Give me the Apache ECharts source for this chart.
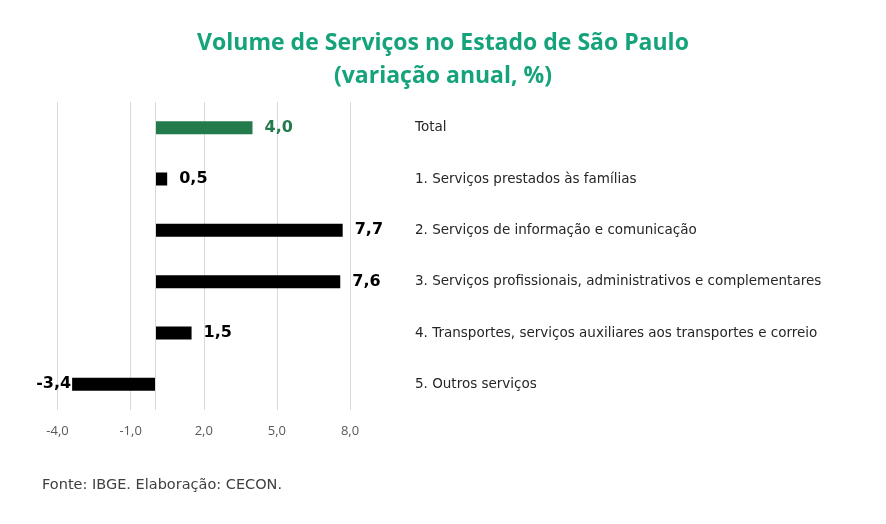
<!DOCTYPE html>
<html><head><meta charset="utf-8">
<script src="https://cdn.jsdelivr.net/npm/echarts@6/dist/echarts.min.js"></script>
<style>html,body{margin:0;padding:0;background:#fff}#c{width:886px;height:524px}</style>
</head><body><div id="c"></div>
<script>
const categories = [
  "Total",
  "1. Serviços prestados às famílias",
  "2. Serviços de informação e comunicação",
  "3. Serviços profissionais, administrativos e complementares",
  "4. Transportes, serviços auxiliares aos transportes e correio",
  "5. Outros serviços"
];
const values = [4.0, 0.5, 7.7, 7.6, 1.5, -3.4];
const xTicks = [-4, -1, 2, 5, 8];
const titleText = "Volume de Serviços no Estado de São Paulo\n(variação anual, %)";
const sourceText = "Fonte: IBGE. Elaboração: CECON.";

const fmt = v => v.toFixed(1).replace('.', ',');
const green = '#237b4c';
const chart = echarts.init(document.getElementById('c'), null, {renderer: 'canvas'});
chart.setOption({
  backgroundColor: '#fff',
  animation: false,
  title: [{
    text: titleText, left: 'center', top: 22,
    textStyle: {fontFamily: 'Open Sans', fontWeight: 'bold', fontSize: 23, color: '#14a37a', lineHeight: 33}
  }, {
    text: sourceText, left: 37, top: 473,
    textStyle: {fontFamily: 'DejaVu Sans', fontWeight: 'normal', fontSize: 14.5, color: '#404040'}
  }],
  grid: {left: 57.5, right: 536, top: 102, bottom: 114, containLabel: false},
  xAxis: {
    type: 'value', min: xTicks[0], max: xTicks[xTicks.length - 1], interval: xTicks[1] - xTicks[0],
    axisLine: {show: false}, axisTick: {show: false},
    splitLine: {show: true, lineStyle: {color: '#d9d9d9', width: 1}},
    axisLabel: {formatter: fmt, color: '#595959', fontFamily: 'Open Sans', fontSize: 13, margin: 15}
  },
  yAxis: {
    type: 'category', data: categories, inverse: true, position: 'right',
    axisLine: {show: false}, axisTick: {show: false}, splitLine: {show: false},
    axisLabel: {color: '#262626', fontFamily: 'DejaVu Sans', fontSize: 13.5, margin: 65, align: 'left'}
  },
  series: [{
    type: 'bar', barWidth: 13,
    data: values.map((v, i) => ({
      value: v,
      itemStyle: {color: i === 0 ? green : '#000'},
      label: {
        show: true,
        position: v < 0 ? 'left' : 'right',
        distance: v < 0 ? 1 : 12,
        formatter: p => fmt(p.value),
        color: i === 0 ? green : '#000',
        fontFamily: 'DejaVu Sans', fontWeight: 'bold', fontSize: 16
      }
    })),
    markLine: {
      silent: true, symbol: 'none', label: {show: false},
      lineStyle: {color: '#d9d9d9', width: 1, type: 'solid'},
      data: [{xAxis: 0}]
    }
  }]
});
</script></body></html>
